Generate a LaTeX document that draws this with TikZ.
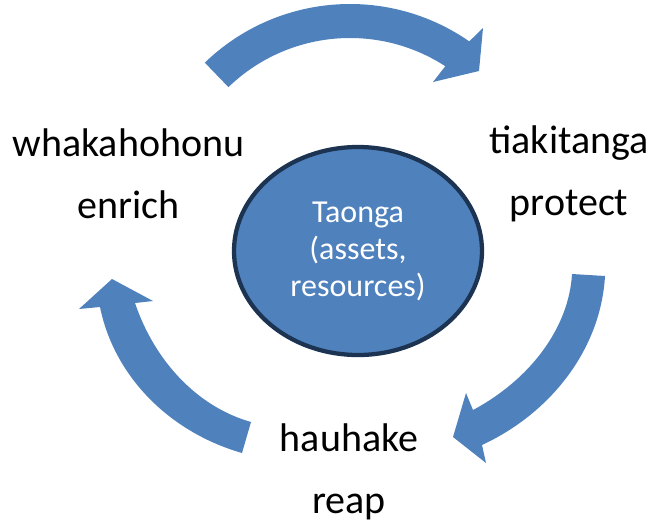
\documentclass[tikz,border=0pt]{standalone}
\usepackage{fontspec}
\setmainfont{Carlito}
\usetikzlibrary{shapes.geometric}
\definecolor{taongablue}{RGB}{79,129,189}
\definecolor{taongaedge}{RGB}{28,52,82}
\tikzset{
  cyclearrow/.style={fill=taongablue},
  cyclelabel/.style={font=\fontsize{30}{46.5}\selectfont, align=center, inner sep=0pt, anchor=base},
}
\begin{document}
\begin{tikzpicture}[x=0.75pt,y=-0.75pt]
\useasboundingbox (0,0) rectangle (653,529);
% centre
\node[ellipse, draw=taongaedge, line width=3.2pt, fill=taongablue, minimum width=186pt, minimum height=156pt,
      text=white, align=center, font=\fontsize{24}{27.75}\selectfont] (taonga) at (358,251) {Taonga\\(assets,\\resources)};

% labels
\node[cyclelabel] (enrich) at (128.5,218) {whakahohonu\\enrich};
\node[cyclelabel] (protect) at (569,215) {tiakitanga\\protect};
\node[cyclelabel] (reap) at (349,513) {hauhake\\reap};

% arrows
\coordinate (topc) at (350,213);
\fill[cyclearrow] ([shift={(topc)}]-134:209) arc[start angle=-134, end angle=-55.2, radius=209]
   -- (483,28) -- (479,71) -- (433,82) -- ([shift={(topc)}]-57:175) arc[start angle=-57, end angle=-134, radius=175] -- cycle;
\fill[cyclearrow] (605,276) .. controls (601,347) and (553,412) .. (482,445)
   -- (486,463) -- (453,437) -- (466,393) -- (473,410) .. controls (531,379) and (569,327) .. (572,274) -- cycle;
\fill[cyclearrow] (242,453) .. controls (169,432) and (114,376) .. (100,307)
   -- (79,309) -- (112,279) -- (153,301) -- (135,303) .. controls (155,362) and (198,407) .. (251,422) -- cycle;
\end{tikzpicture}
\end{document}
